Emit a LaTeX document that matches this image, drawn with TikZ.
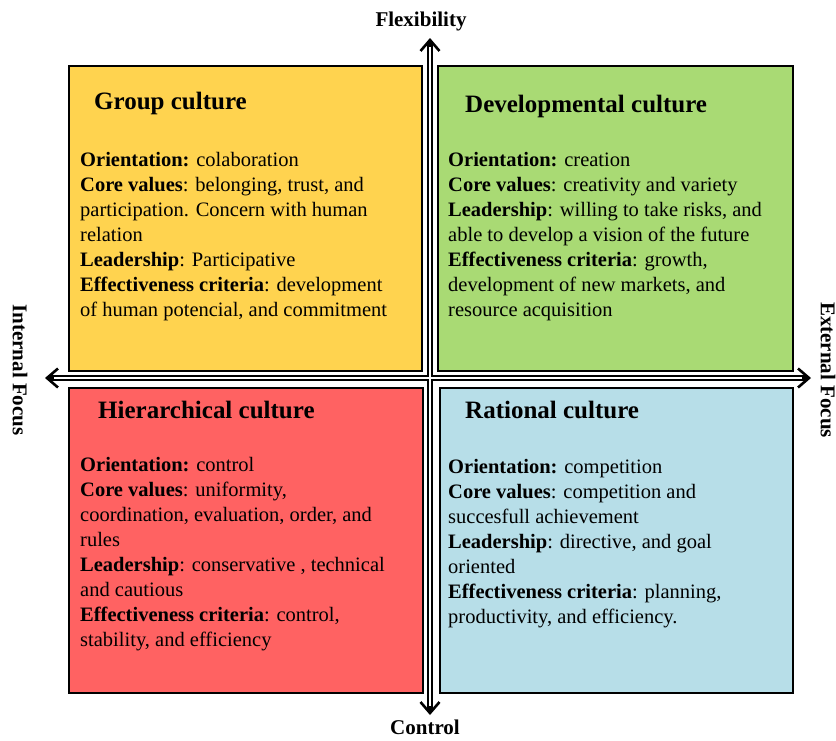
\documentclass[tikz,border=0pt]{standalone}
\usepackage{fontspec}
\setmainfont{Liberation Serif}
\usepackage{xcolor}
\usetikzlibrary{arrows.meta,positioning}
\definecolor{groupyellow}{RGB}{255,211,79}
\definecolor{devgreen}{RGB}{169,218,116}
\definecolor{hierred}{RGB}{255,98,98}
\definecolor{ratblue}{RGB}{183,222,232}
\tikzset{
    quad/.style = {draw=black, line width=1.8pt, rectangle, anchor=north west, inner sep=0pt, minimum width=353pt, minimum height=305pt},
    heading/.style = {font=\fontsize{25}{29}\selectfont\bfseries, anchor=base west, inner sep=0pt},
    body/.style = {font=\fontsize{20.5}{25}\selectfont, align=left, anchor=north west, inner sep=0pt},
    axislabel/.style = {font=\fontsize{21}{25}\selectfont\bfseries, inner sep=0pt},
    axis/.style = {line width=6.4pt, {Straight Barb[line width=2.6pt, length=11pt, width=19pt]}-{Straight Barb[line width=2.6pt, length=11pt, width=19pt]}},
    axis-gap/.style = {white, line width=2.2pt, shorten <=9pt, shorten >=9pt},
}
\begin{document}
\begin{tikzpicture}[x=1pt, y=-1pt]
\useasboundingbox (0,0) rectangle (836,740);
% quadrants
\node[quad, fill=groupyellow] (group) at (68,65) {};
\node[quad, fill=devgreen, minimum width=355pt] (dev) at (437,65) {};
\node[quad, fill=hierred, minimum width=354pt] (hier) at (68,387) {};
\node[quad, fill=ratblue] (rat) at (439,387) {};
% axes
\coordinate (west) at (45,378);
\coordinate (east) at (811,378);
\coordinate (top) at (430,38);
\coordinate (bottom) at (430,715);
\draw[axis] (west) -- (east);
\draw[axis] (top) -- (bottom);
\draw[axis-gap] (west) -- (east);
\draw[axis-gap] (top) -- (bottom);
\node[axislabel, above=7pt of top, xshift=-9pt] (flex) {Flexibility};
\node[axislabel, below=5pt of bottom, xshift=-5pt] (ctrl) {Control};
\node[axislabel, rotate=-90] (internal) at (20,370) {Internal Focus};
\node[axislabel, rotate=-90] (external) at (828,370) {External Focus};
% titles
\node[heading] (group-title) at ([shift={(26pt,-44pt)}]group.north west) {Group culture};
\node[heading] (dev-title) at ([shift={(28pt,-47pt)}]dev.north west) {Developmental culture};
\node[heading] (hier-title) at ([shift={(30pt,-31pt)}]hier.north west) {Hierarchical culture};
\node[heading] (rat-title) at ([shift={(26pt,-31pt)}]rat.north west) {Rational culture};
% texts
\node[body] (group-text) at ([shift={(12pt,-87pt)}]group.north west) {%
    \textbf{Orientation:} colaboration\\
    \textbf{Core values}: belonging, trust, and\\
    participation. Concern with human\\
    relation\\
    \textbf{Leadership}: Participative\\
    \textbf{Effectiveness criteria}: development\\
    of human potencial, and commitment};
\node[body] (dev-text) at ([shift={(11pt,-87pt)}]dev.north west) {%
    \textbf{Orientation:} creation\\
    \textbf{Core values}: creativity and variety\\
    \textbf{Leadership}: willing to take risks, and\\
    able to develop a vision of the future\\
    \textbf{Effectiveness criteria}: growth,\\
    development of new markets, and\\
    resource acquisition};
\node[body] (hier-text) at ([shift={(12pt,-70pt)}]hier.north west) {%
    \textbf{Orientation:} control\\
    \textbf{Core values}: uniformity,\\
    coordination, evaluation, order, and\\
    rules\\
    \textbf{Leadership}: conservative , technical\\
    and cautious\\
    \textbf{Effectiveness criteria}: control,\\
    stability, and efficiency};
\node[body] (rat-text) at ([shift={(9pt,-72pt)}]rat.north west) {%
    \textbf{Orientation:} competition\\
    \textbf{Core values}: competition and\\
    succesfull achievement\\
    \textbf{Leadership}: directive, and goal\\
    oriented\\
    \textbf{Effectiveness criteria}: planning,\\
    productivity, and efficiency.};
\end{tikzpicture}
\end{document}
